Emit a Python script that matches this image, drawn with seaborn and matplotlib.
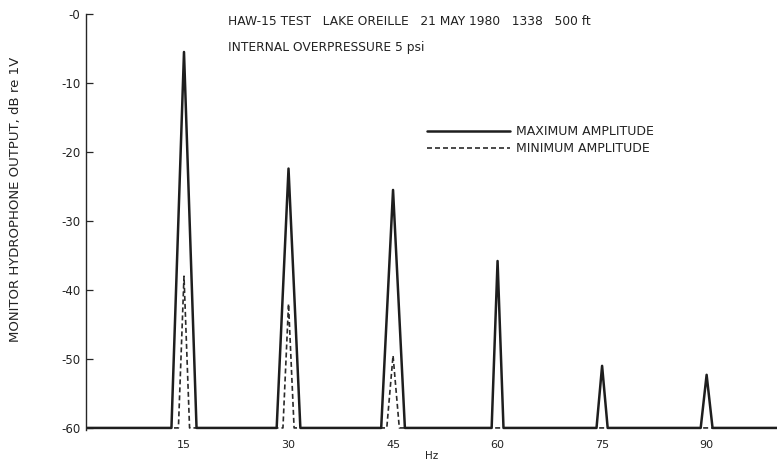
import numpy as np
import pandas as pd
import matplotlib
matplotlib.use("Agg")
import matplotlib.pyplot as plt
import seaborn as sns

# ---- data ----
freqs_hz = [15, 30, 45, 60, 75, 90]
max_amplitude_db = [-5.5, -22.4, -25.5, -35.8, -51.0, -52.3]
min_amplitude_db = [-38.0, -42.0, -49.5, -60.0, -60.0, -60.0]
max_half_width_hz = [1.8, 1.7, 1.7, 0.85, 0.8, 0.85]
min_half_width_hz = [0.8, 0.8, 0.9, 0.0, 0.0, 0.0]
x_ticks = [15, 30, 45, 60, 75, 90]
y_ticks = [0, -10, -20, -30, -40, -50, -60]
y_tick_labels = ["-0", "-10", "-20", "-30", "-40", "-50", "-60"]
floor_db = -60
x_range = (0.94, 100.1)

sns.set_style("ticks")
plt.rcParams['font.family'] = ['DejaVu Sans']
plt.rcParams['font.sans-serif'] = ['DejaVu Sans']


def spectrum(peaks, half_widths):
    xs, ys = [x_range[0]], [floor_db]
    for f, p, hw in zip(freqs_hz, peaks, half_widths):
        if p <= floor_db or hw == 0:
            continue
        xs += [f - hw, f, f + hw]
        ys += [floor_db, p, floor_db]
    xs.append(x_range[1])
    ys.append(floor_db)
    return xs, ys


mx, my = spectrum(max_amplitude_db, max_half_width_hz)
nx, ny = spectrum(min_amplitude_db, min_half_width_hz)
df = pd.concat([
    pd.DataFrame({"Hz": mx, "dB": my, "series": "MAXIMUM AMPLITUDE"}),
    pd.DataFrame({"Hz": nx, "dB": ny, "series": "MINIMUM AMPLITUDE"}),
])

fig = plt.figure(figsize=(7.77, 4.68), dpi=100)
ax = fig.add_axes([0.1107, 0.0812, 0.8893, 0.8888])

ink = "#1e1e1e"
sns.lineplot(data=df[df.series == "MINIMUM AMPLITUDE"], x="Hz", y="dB",
             sort=False, estimator=None, color="#2a2a2a", lw=1.2,
             linestyle=(0, (3, 1.8)), ax=ax, label="MINIMUM AMPLITUDE")
sns.lineplot(data=df[df.series == "MAXIMUM AMPLITUDE"], x="Hz", y="dB",
             sort=False, estimator=None, color=ink, lw=1.8,
             ax=ax, label="MAXIMUM AMPLITUDE")

ax.set_xlim(*x_range)
ax.set_ylim(floor_db - 0.3, 0)
ax.set_xticks(x_ticks)
ax.set_xticklabels([str(t) for t in x_ticks], fontsize=8, color="#222222")
ax.set_yticks(y_ticks)
ax.set_yticklabels(y_tick_labels, fontsize=8.5, color="#222222")
ax.tick_params(axis="y", direction="in", length=5, width=0.9, pad=4)
ax.tick_params(axis="x", length=0, pad=7)
ax.set_xlabel("Hz", fontsize=7.5, color="#222222", labelpad=1)
ax.set_ylabel("MONITOR HYDROPHONE OUTPUT, dB re 1V", fontsize=9.5,
              color="#222222")
ax.yaxis.set_label_coords(-0.0924, 0.555)
sns.despine(ax=ax, top=True, right=True)
ax.spines["left"].set_linewidth(1.0)
ax.spines["bottom"].set_visible(False)

ax.text(0.205, 0.998, "HAW-15 TEST   LAKE OREILLE   21 MAY 1980   1338   500 ft",
        transform=ax.transAxes, fontsize=8.8, color="#222222", va="top", ha="left")
ax.text(0.205, 0.936, "INTERNAL OVERPRESSURE 5 psi",
        transform=ax.transAxes, fontsize=8.8, color="#222222", va="top", ha="left")

handles, labels = ax.get_legend_handles_labels()
order = [labels.index("MAXIMUM AMPLITUDE"), labels.index("MINIMUM AMPLITUDE")]
ax.legend([handles[i] for i in order], [labels[i] for i in order],
          loc="upper left", bbox_to_anchor=(0.494, 0.733), frameon=False,
          fontsize=9, handlelength=6.6, handletextpad=0.5,
          labelspacing=0.35, borderaxespad=0, borderpad=0,
          labelcolor="#222222")

fig.savefig("out.png", dpi=100)
